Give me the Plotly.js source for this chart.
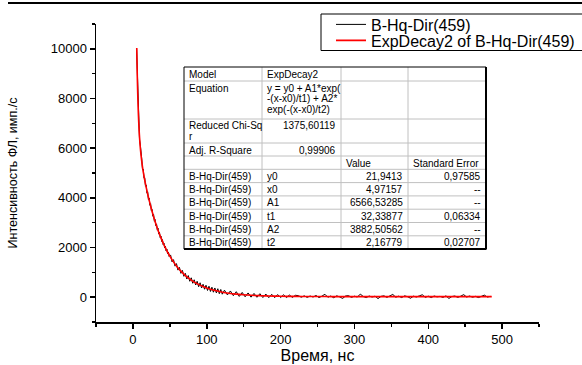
<!DOCTYPE html>
<html><head><meta charset="utf-8">
<script src="https://cdn.plot.ly/plotly-3.0.1.min.js"></script>
<style>
html,body{margin:0;padding:0;background:#fff}
#chart{width:582px;height:365px}
</style>
</head><body><div id="chart"></div>
<script>
// ---------- DATA ----------
const seriesNames = ["B-Hq-Dir(459)", "ExpDecay2 of B-Hq-Dir(459)"];

const timeNs = [5,6,7,8,9,10,11,12,13,14,15,16,17,18,19,20,21,22,23,24,25,26,27,28,29,30,31,32,33,34,35,36,37,38,39,40,41,42,43,44,45,46,47,48,49,
51,53,55,57,59,61,63,65,67,69,71,73,75,77,79,81,83,85,87,89,91,93,95,97,99,101,103,105,107,109,111,113,115,117,119,121,
124,128,132,136,140,144,148,152,156,160,164,168,172,176,180,184,188,192,196,200,204,208,212,216,220,
224,228,232,236,240,244,248,252,256,260,264,268,272,276,280,284,288,292,296,300,304,308,312,316,320,324,328,332,336,340,
344,348,352,356,360,364,368,372,376,380,384,388,392,396,400,404,408,412,416,420,424,428,432,436,440,444,448,452,456,460,
464,468,472,476,480,484];

const intensity = [9980,8900,7600,7080,6330,6130,5610,5560,5130,5160,4790,4810,4470,4520,4190,4240,3930,3990,3700,3760,3470,3530,3260,3330,3060,3130,2880,2950,2700,2780,2540,2610,2390,2460,2240,2320,2110,2180,1980,2050,1860,1940,1750,1820,1640,
1700,1420,1510,1250,1350,1090,1200,960,1080,840,960,730,870,640,780,560,700,490,640,420,580,370,520,320,480,270,440,230,400,200,370,170,340,140,310,120,
280,90,250,60,220,30,190,15,170,0,150,-5,140,-15,125,-20,115,-20,105,-15,95,-15,85,-10,75,
61,-2,54,-9,47,5,68,-16,40,117,-2,47,-23,54,12,-51,47,61,-9,40,5,124,26,-16,47,5,40,-58,33,54,
-9,47,110,-2,40,-16,54,19,-44,40,5,54,96,-9,40,-16,47,12,33,-9,54,-51,26,47,-9,40,103,5,47,-2,
33,-16,40,82,5,33];

const fitTime = [5.2,5.5,6,6.5,7,7.5,8,8.5,9,10,11,12,13,14,15,16,17,18,19,20,22,24,26,28,30,32,34,36,38,40,42,44,46,48,50,
55,60,65,70,75,80,85,90,95,100,110,120,130,140,150,160,170,180,190,200,220,240,260,280,300,350,400,450,486];
const fitValue = [10033,9522,8797,8202,7711,7303,6961,6671,6424,6024,5712,5457,5240,5049,4875,4715,4564,4420,4283,4151,
3902,3668,3449,3243,3050,2869,2698,2537,2386,2245,2111,1986,1868,1758,1653,
1420,1219,1048,901,775,667,575,495,428,370,277,209,159,123,96,76,62,51,43.5,37.7,30.5,26.5,24.4,23.3,22.5,22.1,22,21.9,21.9];

const xTicks = [0,100,200,300,400,500];
const yTicks = [0,2000,4000,6000,8000,10000];
const xTitle = "Время, нс";
const yTitle = "Интенсивность ФЛ, имп./с";

// fit report table
const tableCol1 = ["Model","Equation","Reduced Chi-Sq\nr","Adj. R-Square","","B-Hq-Dir(459)","B-Hq-Dir(459)","B-Hq-Dir(459)","B-Hq-Dir(459)","B-Hq-Dir(459)","B-Hq-Dir(459)"];
const tableCol2 = ["ExpDecay2","y = y0 + A1*exp(\n-(x-x0)/t1) + A2*\nexp(-(x-x0)/t2)","1375,60119","0,99906","","y0","x0","A1","t1","A2","t2"];
const tableCol3 = ["","","","","Value","21,9413","4,97157","6566,53285","32,33877","3882,50562","2,16779"];
const tableCol4 = ["","","","","Standard Error","0,97585","--","--","0,06334","--","0,02707"];

// ---------- LAYOUT GEOMETRY (pixels) ----------
const W = 582, H = 365, M = {l:96, r:43, t:24, b:43};
const pw = W - M.l - M.r, ph = H - M.t - M.b;
const px = x => (x - M.l) / pw;
const py = y => (H - M.b - y) / ph;
const FONT = '"Liberation Sans", Arial, sans-serif';

const colEdges = [184, 262, 341, 408, 486];
const rowEdges = [67, 81, 119, 143, 156, 169.3, 182.6, 195.9, 209.2, 222.5, 235.8, 249.1];

const shapes = [];
const annotations = [];
const P = {xref:'paper', yref:'paper', layer:'above'};
// inner grid lines
for (let i = 1; i < rowEdges.length - 1; i++) {
  shapes.push(Object.assign({type:'line', x0:px(colEdges[0]), x1:px(colEdges[colEdges.length-1]),
    y0:py(rowEdges[i]), y1:py(rowEdges[i]), line:{color:'#c0c0c0', width:1}}, P));
}
for (let j = 1; j < colEdges.length - 1; j++) {
  shapes.push(Object.assign({type:'line', x0:px(colEdges[j]), x1:px(colEdges[j]),
    y0:py(rowEdges[0]), y1:py(rowEdges[rowEdges.length-1]), line:{color:'#c0c0c0', width:1}}, P));
}
// outer border
shapes.push(Object.assign({type:'rect', x0:px(colEdges[0]), x1:px(colEdges[4]),
  y0:py(rowEdges[0]), y1:py(rowEdges[rowEdges.length-1]), line:{color:'#000', width:1}}, P));
shapes.push(Object.assign({type:'line', x0:px(colEdges[4]), x1:px(colEdges[4]),
  y0:py(rowEdges[0]), y1:py(rowEdges[rowEdges.length-1]+0.5), line:{color:'#000', width:2}}, P));
shapes.push(Object.assign({type:'line', x0:px(colEdges[0]), x1:px(colEdges[4]),
  y0:py(rowEdges[rowEdges.length-1]), y1:py(rowEdges[rowEdges.length-1]), line:{color:'#000', width:2}}, P));

// cell texts
const cols = [tableCol1, tableCol2, tableCol3, tableCol4];
cols.forEach((col, j) => {
  col.forEach((txt, i) => {
    if (!txt) return;
    const right = /^[-\d,]+$/.test(txt);
    txt.split("\n").forEach((line, k) => {
      annotations.push({xref:'paper', yref:'paper', showarrow:false,
        x: px(right ? colEdges[j+1] - 3 : colEdges[j] + 3), xanchor: right ? 'right' : 'left',
        y: py(rowEdges[i] + 7 + k*10.5), yanchor:'middle',
        text: line, font:{family:FONT, size:10, color:'#000'}});
    });
  });
});

// legend frame
shapes.push(Object.assign({type:'rect', x0:px(321), x1:px(600), y0:py(14), y1:py(50.5),
  line:{color:'#000', width:1}, fillcolor:'rgba(0,0,0,0)'}, P));
// cropped border fragment at the very top of the picture
shapes.push(Object.assign({type:'line', x0:px(8), x1:px(590), y0:py(3), y1:py(3), line:{color:'#000', width:2}}, P));

// ---------- TRACES ----------
const traces = [
  {x: timeNs, y: intensity, type:'scatter', mode:'lines', name: seriesNames[0], legend:'legend', line:{color:'#000', width:1}},
  {x: fitTime, y: fitValue, type:'scatter', mode:'lines', name: seriesNames[1], legend:'legend2', line:{color:'#ff0000', width:1.6, shape:'spline', smoothing:0.6}}
];

const axisCommon = {showline:true, linecolor:'#000', linewidth:1.5, showgrid:false, zeroline:false,
  ticks:'outside', ticklen:5, tickwidth:1.5, tickcolor:'#000', tickfont:{family:FONT, size:13, color:'#000'}};
const legendCommon = {x:px(331), xanchor:'left', yanchor:'top', bgcolor:'rgba(255,255,255,0)', borderwidth:0,
  font:{family:FONT, size:16, color:'#000'}};

const layout = {
  width: W, height: H,
  margin: {l:M.l, r:M.r, t:M.t, b:M.b, autoexpand:false},
  paper_bgcolor:'#fff', plot_bgcolor:'#fff',
  font:{family:FONT, color:'#000'},
  xaxis: Object.assign({}, axisCommon, {range:[-50,550], tickvals:xTicks, ticktext:xTicks.map(String),
    minor:{dtick:50, tick0:0, ticks:'outside', ticklen:3, tickwidth:1.5, tickcolor:'#000'},
    title:{text:xTitle, font:{family:FONT, size:16, color:'#000'}, standoff:1}}),
  yaxis: Object.assign({}, axisCommon, {range:[-1000,11000], tickvals:yTicks, ticktext:yTicks.map(String),
    minor:{dtick:1000, tick0:0, ticks:'outside', ticklen:3, tickwidth:1.5, tickcolor:'#000'},
    title:{text:yTitle, font:{family:FONT, size:12.5, color:'#000'}, standoff:30}}),
  showlegend:true,
  legend: Object.assign({}, legendCommon, {y:py(7.5)}),
  legend2: Object.assign({}, legendCommon, {y:py(23.5)}),
  shapes: shapes,
  annotations: annotations
};

Plotly.newPlot('chart', traces, layout, {staticPlot:true, displayModeBar:false});
</script>
</body></html>
